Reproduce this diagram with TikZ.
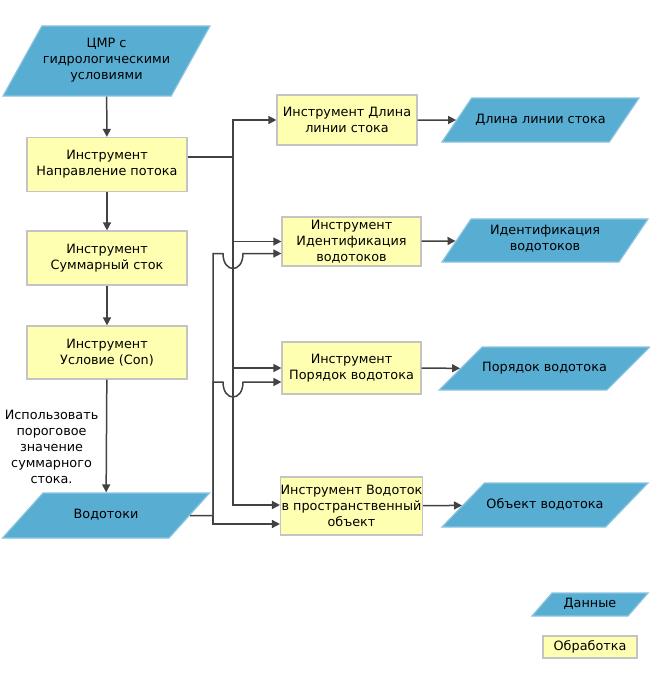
\documentclass[tikz,border=0pt]{standalone}
\usepackage{fontspec}
\setmainfont{DejaVu Sans}
\usetikzlibrary{arrows.meta,shapes.geometric}
\definecolor{LineGray}{RGB}{66,66,66}
\definecolor{DataBlue}{RGB}{88,173,211}
\definecolor{DataEdge}{RGB}{140,196,222}
\definecolor{ToolYellow}{RGB}{255,255,178}
\definecolor{ToolEdge}{RGB}{196,196,196}
\tikzset{
  tool/.style={draw=ToolEdge,fill=ToolYellow,line width=1.2pt,align=center,inner sep=0pt,font=\fontsize{12.8}{16}\selectfont},
  data/.style={trapezium,trapezium stretches body,draw=DataEdge,fill=DataBlue,line width=1.2pt,align=center,inner xsep=0pt,
    font=\fontsize{12.8}{16}\selectfont,execute at begin node=\strut,execute at end node=\strut},
  flow/.style={-{Triangle[length=8pt,width=8pt]},line width=1.5pt,draw=LineGray},
  wire/.style={line width=1.5pt,draw=LineGray}
}

\begin{document}
\begin{tikzpicture}[x=1pt,y=-1pt]
\useasboundingbox (0,0) rectangle (650,677);

\node[data,trapezium left angle=61,trapezium right angle=119,minimum width=207pt,inner ysep=12pt] (dem) at (106.5,61) {ЦМР с\\гидрологическими\\условиями};

\node[tool,minimum width=160pt,minimum height=54pt] (dir) at (107,164.5) {Инструмент\\Направление потока};
\node[tool,minimum width=160pt,minimum height=54pt] (acc) at (107,258) {Инструмент\\Суммарный сток};
\node[tool,minimum width=160pt,minimum height=53pt] (con) at (107,352.5) {Инструмент\\Условие (Con)};

\node[data,trapezium left angle=48,trapezium right angle=132,minimum width=207pt,inner ysep=14.5pt] (streams) at (106,515.5) {Водотоки};

\node[tool,minimum width=140pt,minimum height=50pt] (len) at (347,120) {Инструмент Длина\\линии стока};
\node[tool,minimum width=139pt,minimum height=49pt] (ident) at (351.5,241.5) {Инструмент\\Идентификация\\водотоков};
\node[tool,minimum width=139pt,minimum height=52pt] (order) at (351.5,368) {Инструмент\\Порядок водотока};
\node[tool,minimum width=139pt,minimum height=58pt] (feat) at (351.5,506) {Инструмент Водоток\\в пространственный\\объект};

\node[data,trapezium left angle=56,trapezium right angle=124,minimum width=197pt,inner ysep=14pt] (lenout) at (540.5,120) {Длина линии стока};
\node[data,trapezium left angle=56,trapezium right angle=124,minimum width=206pt,inner ysep=6.5pt] (identout) at (545,240.5) {Идентификация\\водотоков};
\node[data,trapezium left angle=45,trapezium right angle=135,minimum width=205pt,inner ysep=13.5pt] (orderout) at (544.5,368.5) {Порядок водотока};
\node[data,trapezium left angle=46,trapezium right angle=134,minimum width=206pt,inner ysep=14pt] (featout) at (545,505) {Объект водотока};

% legend
\node[data,trapezium left angle=49,trapezium right angle=131,minimum width=116pt,inner ysep=3.5pt] (legdata) at (590,604.5) {Данные};
\node[tool,minimum width=94pt,minimum height=22pt] (legproc) at (590,647) {Обработка};

\coordinate (fork) at (233,157);
\coordinate (bus) at (213,515.5);
\coordinate (hopA) at (223,253.5);
\coordinate (hopB) at (223,382);

\draw[flow] (dem) -- (dir);
\draw[flow] (dir) -- (acc);
\draw[flow] (acc) -- (con);
\draw[flow] (con) -- node[left=4pt,pos=0.6,align=center,font=\fontsize{12.8}{16}\selectfont] (note) {Использовать\\пороговое\\значение\\суммарного\\стока.} (streams);

\draw[wire] (dir.east |- fork) -- (fork);
\draw[flow] (fork) |- (len);
\draw[flow] (fork) |- (ident);
\draw[flow] (fork) |- (order);
\draw[flow] (fork) |- ([yshift=1pt]feat.west);

\draw[wire] (streams) -- (bus);
\draw[flow] (bus) |- (hopA) .. controls +(0,20) and +(0,20) .. +(20,0) -- ([yshift=-12pt]ident.west);
\draw[flow] (bus) |- (hopB) .. controls +(0,20) and +(0,20) .. +(20,0) -- ([yshift=-14pt]order.west);
\draw[flow] (bus) |- ([yshift=-18pt]feat.west);

\draw[flow] (len) -- (lenout);
\draw[flow] (ident) -- (identout);
\draw[flow] (order) -- (orderout);
\draw[flow] (feat) -- (featout);

\end{tikzpicture}
\end{document}
